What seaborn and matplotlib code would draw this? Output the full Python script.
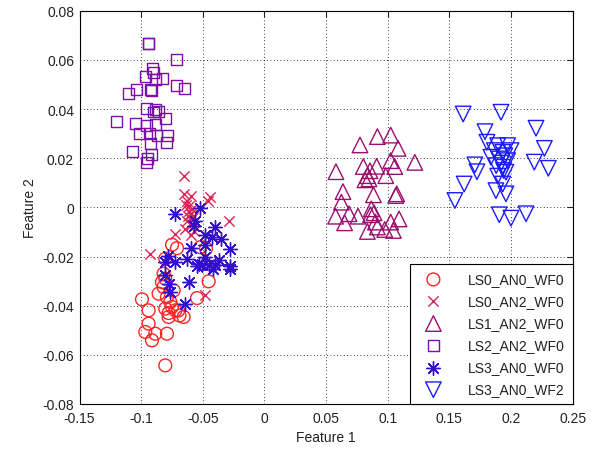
import numpy as np
import pandas as pd
import matplotlib
matplotlib.use("Agg")
import matplotlib.pyplot as plt
import seaborn as sns

# ---------------- data ----------------
ls0_an0_wf0_x = [-0.0819, -0.0805, -0.0453, -0.0819, -0.0859, -0.0547, -0.0994, -0.0791, -0.0764, -0.0805,
                 -0.0940, -0.0723, -0.0778, -0.0656, -0.0940, -0.0967, -0.0886, -0.0791, -0.0913, -0.0805,
                 -0.0737, -0.0832, -0.0750, -0.0778, -0.0750, -0.0710, -0.0805, -0.0520, -0.0474, -0.0700,
                 -0.0690]
ls0_an0_wf0_y = [-0.0270, -0.0290, -0.0301, -0.0324, -0.0351, -0.0369, -0.0374, -0.0365, -0.0385, -0.0412,
                 -0.0419, -0.0419, -0.0446, -0.0446, -0.0473, -0.0507, -0.0514, -0.0514, -0.0541, -0.0643,
                 -0.0338, -0.0304, -0.0405, -0.0430, -0.0152, -0.0166, -0.0209, -0.0162, -0.0168, -0.0420,
                 -0.0440]

ls0_an2_wf0_x = [-0.0656, -0.0656, -0.0600, -0.0628, -0.0438, -0.0457, -0.0615, -0.0588, -0.0600, -0.0628,
                 -0.0290, -0.0729, -0.0642, -0.0600, -0.0926, -0.0485, -0.0580, -0.0610, -0.0595, -0.0640,
                 -0.0570, -0.0620]
ls0_an2_wf0_y = [0.0129, 0.0055, 0.0045, 0.0024, 0.0041, 0.0024, 0.0007, -0.0006, -0.0026, -0.0054,
                 -0.0054, -0.0108, -0.0087, -0.0114, -0.0189, -0.0355, -0.0040, -0.0015, -0.0070, 0.0010,
                 -0.0095, -0.0035]

ls1_an2_wf0_x = [0.0916, 0.1024, 0.0775, 0.1084, 0.1024, 0.1220, 0.0802, 0.0910, 0.1057, 0.0580,
                 0.0856, 0.0835, 0.0984, 0.0848, 0.0815, 0.0637, 0.0884, 0.1073, 0.1065, 0.0624,
                 0.0867, 0.0889, 0.0860, 0.0577, 0.0686, 0.0759, 0.0650, 0.1024, 0.1092, 0.0835,
                 0.0916, 0.0976, 0.1046, 0.0900]
ls1_an2_wf0_y = [0.0288, 0.0294, 0.0254, 0.0240, 0.0190, 0.0183, 0.0166, 0.0167, 0.0166, 0.0145,
                 0.0149, 0.0129, 0.0129, 0.0116, 0.0112, 0.0064, 0.0051, 0.0055, 0.0048, 0.0021,
                 -0.0006, -0.0022, -0.0030, -0.0036, -0.0026, -0.0036, -0.0063, -0.0060, -0.0047, -0.0098,
                 -0.0080, -0.0090, -0.0094, -0.0060]

ls2_an2_wf0_x = [-0.0940, -0.0940, -0.0715, -0.0905, -0.0900, -0.0967, -0.0824, -0.0886, -0.0715, -0.0650,
                 -0.1100, -0.1035, -0.0913, -0.0927, -0.0954, -0.0886, -0.0860, -0.0900, -0.0805, -0.1203,
                 -0.1050, -0.0954, -0.0886, -0.1014, -0.0933, -0.0872, -0.0786, -0.0797, -0.0927, -0.1067,
                 -0.0913, -0.0949, -0.0954]
ls2_an2_wf0_y = [0.0667, 0.0665, 0.0603, 0.0565, 0.0549, 0.0533, 0.0525, 0.0519, 0.0497, 0.0484,
                 0.0465, 0.0481, 0.0474, 0.0478, 0.0403, 0.0397, 0.0389, 0.0388, 0.0362, 0.0348,
                 0.0343, 0.0335, 0.0339, 0.0302, 0.0302, 0.0292, 0.0292, 0.0265, 0.0258, 0.0227,
                 0.0217, 0.0197, 0.0181]

ls3_an0_wf0_x = [-0.0729, -0.0520, -0.0560, -0.0574, -0.0398, -0.0479, -0.0349, -0.0425, -0.0600, -0.0276,
                 -0.0479, -0.0783, -0.0628, -0.0479, -0.0371, -0.0276, -0.0534, -0.0453, -0.0723, -0.0805,
                 -0.0276, -0.0507, -0.0398, -0.0615, -0.0778, -0.0764, -0.0642, -0.0805, -0.0550, -0.0420]
ls3_an0_wf0_y = [-0.0026, -0.0003, -0.0054, -0.0074, -0.0080, -0.0114, -0.0130, -0.0121, -0.0166, -0.0168,
                 -0.0155, -0.0196, -0.0209, -0.0202, -0.0216, -0.0239, -0.0229, -0.0233, -0.0222, -0.0222,
                 -0.0252, -0.0236, -0.0236, -0.0304, -0.0310, -0.0344, -0.0392, -0.0277, -0.0240, -0.0250]

ls3_an0_wf2_x = [0.1612, 0.1919, 0.2203, 0.1789, 0.2271, 0.1805, 0.1892, 0.1973, 0.1865, 0.1933,
                 0.2000, 0.1837, 0.1905, 0.1973, 0.2189, 0.2303, 0.1707, 0.1724, 0.1933, 0.1959,
                 0.1892, 0.1620, 0.1933, 0.1878, 0.1959, 0.1545, 0.1905, 0.2000, 0.2122, 0.1920,
                 0.1950, 0.1880, 0.1940]
ls3_an0_wf2_y = [0.0380, 0.0387, 0.0322, 0.0308, 0.0240, 0.0265, 0.0251, 0.0251, 0.0231, 0.0224,
                 0.0231, 0.0204, 0.0197, 0.0190, 0.0184, 0.0159, 0.0173, 0.0145, 0.0163, 0.0143,
                 0.0127, 0.0095, 0.0095, 0.0068, 0.0055, 0.0028, -0.0030, -0.0044, -0.0026, 0.0180,
                 0.0210, 0.0170, 0.0150]

series_names = ["LS0_AN0_WF0", "LS0_AN2_WF0", "LS1_AN2_WF0", "LS2_AN2_WF0", "LS3_AN0_WF0", "LS3_AN0_WF2"]
series_x = [ls0_an0_wf0_x, ls0_an2_wf0_x, ls1_an2_wf0_x, ls2_an2_wf0_x, ls3_an0_wf0_x, ls3_an0_wf2_x]
series_y = [ls0_an0_wf0_y, ls0_an2_wf0_y, ls1_an2_wf0_y, ls2_an2_wf0_y, ls3_an0_wf0_y, ls3_an0_wf2_y]

x_ticks = [-0.15, -0.1, -0.05, 0, 0.05, 0.1, 0.15, 0.2, 0.25]
x_tick_labels = ["-0.15", "-0.1", "-0.05", "0", "0.05", "0.1", "0.15", "0.2", "0.25"]
y_ticks = [-0.08, -0.06, -0.04, -0.02, 0, 0.02, 0.04, 0.06, 0.08]
y_tick_labels = ["-0.08", "-0.06", "-0.04", "-0.02", "0", "0.02", "0.04", "0.06", "0.08"]

# ---------------- style ----------------
sns.set_style("white")
plt.rcParams["font.family"] = ["Liberation Sans", "DejaVu Sans"]
plt.rcParams["font.size"] = 10

colors = ["#ff2424", "#dd2255", "#9a1070", "#7a10a8", "#3311cc", "#1a1aff"]
markers = ["o", "x", "^", "s", (8, 2, 0), "v"]
sizes = [85, 55, 125, 62, 95, 125]
hollow = [True, False, True, True, False, True]

frames = []
for n, xs, ys in zip(series_names, series_x, series_y):
    frames.append(pd.DataFrame({"Feature 1": xs, "Feature 2": ys, "series": n}))
df = pd.concat(frames, ignore_index=True)

fig = plt.figure(figsize=(5.94, 4.52), dpi=100)
ax = fig.add_axes([0.134, 0.104, 0.830, 0.870])

for i, n in enumerate(series_names):
    sub = df[df["series"] == n]
    if hollow[i]:
        sns.scatterplot(data=sub, x="Feature 1", y="Feature 2", ax=ax, marker=markers[i],
                        s=sizes[i], facecolor="none", edgecolor=colors[i], linewidth=1.0,
                        label=n, zorder=3)
    else:
        sns.scatterplot(data=sub, x="Feature 1", y="Feature 2", ax=ax, marker=markers[i],
                        s=sizes[i], color=colors[i], linewidth=1.0, label=n, zorder=3)

ax.set_xlim(-0.15, 0.25)
ax.set_ylim(-0.08, 0.08)
ax.set_xticks(x_ticks)
ax.set_xticklabels(x_tick_labels)
ax.set_yticks(y_ticks)
ax.set_yticklabels(y_tick_labels)
ax.tick_params(direction="in", length=4, width=0.8, top=True, right=True,
               labelsize=10, colors="#222222")
ax.tick_params(axis="x", pad=5)
ax.tick_params(axis="y", pad=4)
ax.grid(True, color="black", linestyle=(0, (1, 3)), linewidth=0.6)
for sp in ax.spines.values():
    sp.set_color("black")
    sp.set_linewidth(0.8)
ax.set_xlabel("Feature 1", fontsize=10, color="#222222", labelpad=4)
ax.set_ylabel("Feature 2", fontsize=10, color="#222222", labelpad=4)

leg = ax.legend(loc="lower right", borderaxespad=0, fancybox=False, framealpha=1,
                edgecolor="black", fontsize=10, handletextpad=1.4, labelspacing=0.58,
                borderpad=0.55, handlelength=2.2)
leg.get_frame().set_linewidth(0.8)
for t in leg.get_texts():
    t.set_color("#222222")

fig.savefig("out.png", dpi=100)
